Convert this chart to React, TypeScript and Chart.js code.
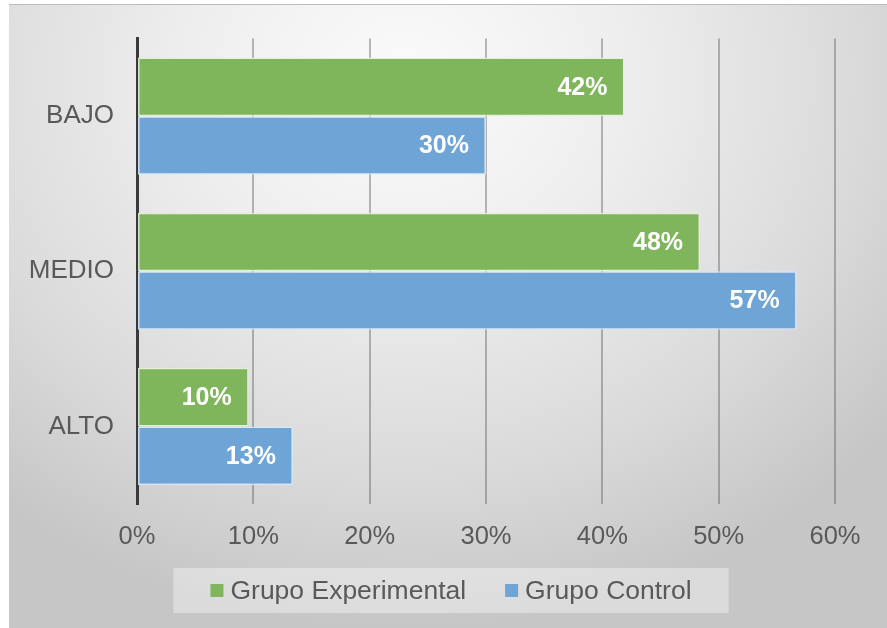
import React, { useEffect, useRef } from "react";
import { Chart, registerables } from "chart.js";

Chart.register(...registerables);

const categories = ["BAJO", "MEDIO", "ALTO"];
const seriesNames = ["Grupo Experimental", "Grupo Control"];
const experimental = [41.9, 48.4, 9.6];
const control = [30.0, 56.7, 13.4];
const experimentalLabels = ["42%", "48%", "10%"];
const controlLabels = ["30%", "57%", "13%"];
const xTickMax = 60;
const xTickStep = 10;

const GREEN = "rgb(128,182,91)";
const BLUE = "rgb(111,164,215)";
const TEXT = "#595959";
const FONT = "'Liberation Sans', Arial, sans-serif";

export default function App() {
  const ref = useRef<HTMLCanvasElement | null>(null);

  useEffect(() => {
    const canvas = ref.current;
    if (!canvas) return;
    const allLabels = [experimentalLabels, controlLabels];

    const dataLabelPlugin = {
      id: "dataLabels",
      afterDatasetsDraw(chart: any) {
        const ctx = chart.ctx;
        ctx.save();
        ctx.font = `bold 25px ${FONT}`;
        ctx.fillStyle = "#ffffff";
        ctx.textAlign = "right";
        ctx.textBaseline = "middle";
        chart.data.datasets.forEach((_: any, di: number) => {
          const meta = chart.getDatasetMeta(di);
          meta.data.forEach((bar: any, i: number) => {
            ctx.fillText(allLabels[di][i], bar.x - 17, bar.y + 1);
          });
        });
        ctx.restore();
      },
    };

    const legendPlugin = {
      id: "customLegend",
      afterDraw(chart: any) {
        const ctx = chart.ctx;
        ctx.save();
        ctx.font = `26.5px ${FONT}`;
        const box = 13;
        const gapText = 7;
        const gapItems = 39;
        const pad = 37;
        const widths = seriesNames.map((n) => ctx.measureText(n).width);
        const content =
          widths.reduce((a, b) => a + b, 0) + seriesNames.length * (box + gapText) + gapItems * (seriesNames.length - 1);
        const cx = 451;
        const top = 568;
        const h = 45;
        const left = cx - content / 2 - pad;
        ctx.fillStyle = "rgba(255,255,255,0.38)";
        ctx.fillRect(left, top, content + pad * 2, h);
        let x = cx - content / 2;
        const cy = top + h / 2;
        const colors = [GREEN, BLUE];
        seriesNames.forEach((n, i) => {
          ctx.fillStyle = colors[i];
          ctx.fillRect(x, cy - box / 2, box, box);
          x += box + gapText;
          ctx.fillStyle = TEXT;
          ctx.textAlign = "left";
          ctx.textBaseline = "middle";
          ctx.fillText(n, x, cy + 1);
          x += widths[i] + gapItems;
        });
        ctx.restore();
      },
    };

    const chart = new Chart(canvas, {
      type: "bar",
      data: {
        labels: categories,
        datasets: [
          {
            label: seriesNames[0],
            data: experimental,
            backgroundColor: GREEN,
            borderColor: "rgba(225,240,215,0.9)",
            borderWidth: 1.5,
            borderSkipped: false,
            categoryPercentage: 0.755,
            barPercentage: 1,
          },
          {
            label: seriesNames[1],
            data: control,
            backgroundColor: BLUE,
            borderColor: "rgba(215,232,248,0.9)",
            borderWidth: 1.5,
            borderSkipped: false,
            categoryPercentage: 0.755,
            barPercentage: 1,
          },
        ],
      },
      options: {
        indexAxis: "y",
        responsive: false,
        animation: false,
        layout: { padding: { top: 33, right: 52, bottom: 64, left: 0 } },
        plugins: {
          legend: { display: false },
          tooltip: { enabled: false },
        },
        scales: {
          x: {
            min: 0,
            max: xTickMax,
            ticks: {
              stepSize: xTickStep,
              color: TEXT,
              font: { family: FONT, size: 25.5 },
              padding: 18,
              callback: (v: any) => `${v}%`,
            },
            grid: {
              color: "rgba(90,90,90,0.42)",
              lineWidth: 2,
              drawTicks: false,
            },
            border: { display: false },
            afterFit: (s: any) => {
              s.height = 60;
            },
          },
          y: {
            ticks: {
              color: TEXT,
              font: { family: FONT, size: 26 },
              padding: 23,
            },
            grid: { display: false, drawTicks: false },
            border: { display: true, color: "#3a3a3a", width: 3 },
            afterFit: (s: any) => {
              s.width = 137;
            },
          },
        },
      },
      plugins: [dataLabelPlugin, legendPlugin],
    });
    return () => chart.destroy();
  }, []);

  return (
    <div
      style={{
        position: "fixed",
        left: 0,
        top: 0,
        width: 887,
        height: 628,
        background: "#ffffff",
        overflow: "hidden",
      }}
    >
      <div
        style={{
          position: "absolute",
          left: 9,
          top: 4,
          width: 878,
          height: 624,
          borderTop: "1px solid #bcbcbc",
          boxSizing: "border-box",
          background:
            "radial-gradient(ellipse 72% 88% at 45% 12%, #fbfbfb 0%, #eeeeee 35%, #dadada 72%, #c6c6c6 100%)",
        }}
      />
      <canvas
        ref={ref}
        width={887}
        height={628}
        style={{ position: "absolute", left: 0, top: 0, width: 887, height: 628 }}
      />
    </div>
  );
}
